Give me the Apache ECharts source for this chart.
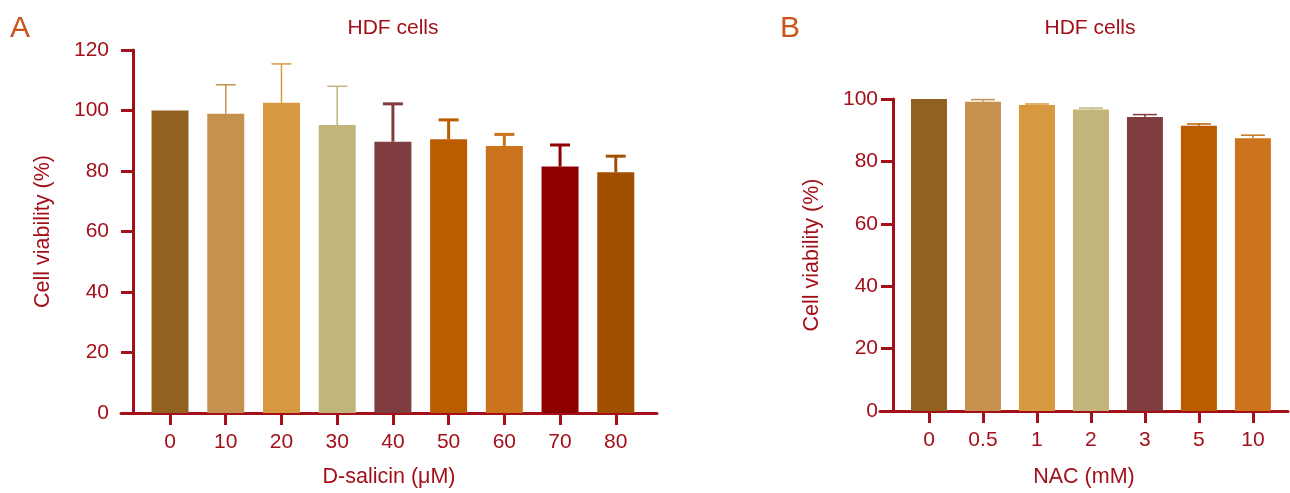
<!DOCTYPE html>
<html>
<head>
<meta charset="utf-8">
<script src="https://cdn.jsdelivr.net/npm/echarts@6/dist/echarts.min.js"></script>
<style>
  html, body { margin: 0; padding: 0; background: #fff; }
  #chart { width: 1290px; height: 493px; }
</style>
</head>
<body>
<div id="chart"></div>
<script>
// panel A: D-salicin
const catsA = ['0', '10', '20', '30', '40', '50', '60', '70', '80'];
const meanA = [100, 98.9, 102.6, 95.2, 89.7, 90.5, 88.3, 81.5, 79.6];
const sdA = [0, 9.6, 12.8, 12.8, 12.5, 6.4, 3.8, 7.1, 5.3];
// panel B: NAC
const catsB = ['0', '0.5', '1', '2', '3', '5', '10'];
const meanB = [100, 99.1, 98.1, 96.6, 94.2, 91.4, 87.4];
const sdB = [0, 0.7, 0.3, 0.5, 0.8, 0.6, 1.0];

const yTicksA = [0, 20, 40, 60, 80, 100, 120];
const yTicksB = [0, 20, 40, 60, 80, 100];

const colors = ['#93611f', '#c5914e', '#d89840', '#c1b57a', '#7f3d40', '#bb5c00', '#cc731e', '#8e0000', '#a15000'];
const errWidthA = [1.5, 1.5, 1.5, 1.5, 3, 3, 3, 3, 3];

const red = '#a3101a';
const font = 'Liberation Sans';

const myChart = echarts.init(document.getElementById('chart'));

function barData(means) {
  return means.map((v, i) => ({ value: [i, v], itemStyle: { color: colors[i] } }));
}
function errData(means, sds) {
  return means.map((v, i) => [i, v, sds[i]]);
}
// upper error bar with cap, drawn through the axes
function errRender(capW, widths) {
  return function (params, api) {
    const i = api.value(0), m = api.value(1), s = api.value(2);
    if (!s) return null;
    const base = api.coord([i, m]);
    const top = api.coord([i, m + s]);
    const lw = widths ? widths[i] : 1.5;
    const st = { stroke: colors[i], lineWidth: lw };
    return {
      type: 'group',
      children: [
        { type: 'line', shape: { x1: base[0], y1: base[1], x2: top[0], y2: top[1] }, style: st },
        { type: 'line', shape: { x1: top[0] - capW / 2, y1: top[1], x2: top[0] + capW / 2, y2: top[1] }, style: st }
      ]
    };
  };
}

function xAxisOf(idx, cats, min, max, name, nameGap) {
  const ticks = cats.map((c, i) => i);
  return {
    type: 'value', gridIndex: idx, min: min, max: max,
    name: name, nameLocation: 'middle', nameGap: nameGap,
    nameTextStyle: { color: red, fontSize: 21.5, fontFamily: font },
    axisLine: { show: true, onZero: false, lineStyle: { color: red, width: 3 } },
    axisTick: { show: true, length: 12, customValues: ticks, lineStyle: { color: red, width: 3 } },
    axisLabel: { customValues: ticks, margin: 19, color: red, fontSize: 21, fontFamily: font,
      formatter: v => cats[Math.round(v)] },
    splitLine: { show: false }
  };
}
function yAxisOf(idx, max, offset, labelMargin, nameGap) {
  return {
    type: 'value', gridIndex: idx, min: 0, max: max, interval: 20, offset: offset,
    name: 'Cell viability (%)', nameLocation: 'middle', nameGap: nameGap,
    nameTextStyle: { color: red, fontSize: 21.5, fontFamily: font },
    axisLine: { show: true, onZero: false, lineStyle: { color: red, width: 3 } },
    axisTick: { show: true, length: 12, lineStyle: { color: red, width: 3 } },
    axisLabel: { margin: labelMargin, color: red, fontSize: 21, fontFamily: font },
    splitLine: { show: false }
  };
}

const option = {
  animation: false,
  title: [
    { text: 'A', left: 5, top: 9, textStyle: { color: '#c9541c', fontSize: 30, fontWeight: 'normal', fontFamily: font } },
    { text: 'B', left: 775, top: 9, textStyle: { color: '#c9541c', fontSize: 30, fontWeight: 'normal', fontFamily: font } },
    { text: 'HDF cells', left: 388, top: 13, textAlign: 'center', textStyle: { color: red, fontSize: 21, fontWeight: 'normal', fontFamily: font } },
    { text: 'HDF cells', left: 1085, top: 13, textAlign: 'center', textStyle: { color: red, fontSize: 21, fontWeight: 'normal', fontFamily: font } }
  ],
  grid: [
    { left: 121, right: 633, top: 50, bottom: 80 },
    { left: 880, right: 2, top: 99, bottom: 78.5 }
  ],
  xAxis: [
    xAxisOf(0, catsA, -0.88, 8.74, 'D-salicin (\u03bcM)', 53),
    xAxisOf(1, catsB, -0.907, 6.65, 'NAC (mM)', 55)
  ],
  yAxis: [
    yAxisOf(0, yTicksA[yTicksA.length - 1], -12, 24, 79),
    yAxisOf(1, yTicksB[yTicksB.length - 1], -13, 15, 70)
  ],
  series: [
    { type: 'bar', xAxisIndex: 0, yAxisIndex: 0, barWidth: 37, data: barData(meanA) },
    { type: 'custom', xAxisIndex: 0, yAxisIndex: 0, z: 5, renderItem: errRender(20, errWidthA), data: errData(meanA, sdA) },
    { type: 'bar', xAxisIndex: 1, yAxisIndex: 1, barWidth: 36, data: barData(meanB) },
    { type: 'custom', xAxisIndex: 1, yAxisIndex: 1, z: 5, renderItem: errRender(24, null), data: errData(meanB, sdB) }
  ]
};

option && myChart.setOption(option);
</script>
</body>
</html>
